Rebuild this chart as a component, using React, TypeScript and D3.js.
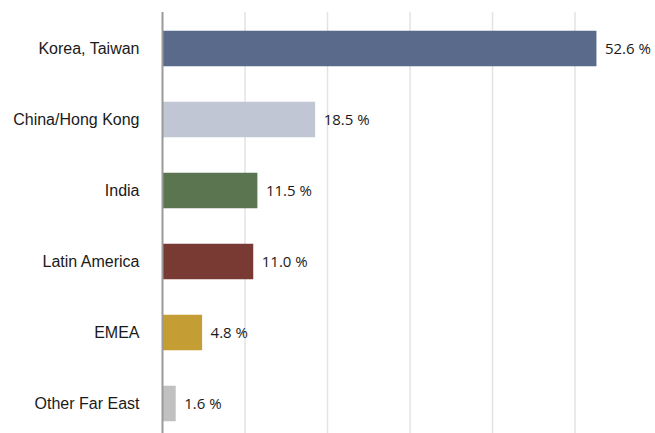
import React from "react";
import * as d3 from "d3";

const categories = ["Korea, Taiwan", "China/Hong Kong", "India", "Latin America", "EMEA", "Other Far East"];
const values = [52.6, 18.5, 11.5, 11.0, 4.8, 1.6];
const colors = ["#5a6a8b", "#c0c6d3", "#5c7551", "#7a3a34", "#c49d34", "#c0c0c0"];
const gridTicks = [10, 20, 30, 40, 50];

export default function App() {
  const W = 655, H = 433;
  const x = d3.scaleLinear().domain([0, 60]).range([162.5, 657.5]);
  const y = d3.scaleBand<string>().domain(categories).range([13, 439]).paddingInner(0.5).paddingOuter(0.25);
  return (
    <svg width={W} height={H} style={{ position: "absolute", left: 0, top: 0, background: "#fff" }}>
      {gridTicks.map((t) => (
        <line key={t} x1={x(t)} x2={x(t)} y1={12} y2={H} stroke="#e3e3e3" strokeWidth={1.5} />
      ))}
      {categories.map((c, i) => (
        <g key={c}>
          <rect x={x(0)} y={y(c)} width={x(values[i]) - x(0)} height={y.bandwidth()} fill={colors[i]} />
          <text x={139.5} y={(y(c) as number) + y.bandwidth() / 2} dy="0.36em" textAnchor="end"
            fontFamily="'Liberation Sans', Arial, sans-serif" fontSize={16} fill="#1a1a1a">{c}</text>
          <text x={x(values[i]) + 8.5} y={(y(c) as number) + y.bandwidth() / 2} dy="0.36em" textAnchor="start"
            fontFamily="'Open Sans', sans-serif" fontSize={15} fill="#1a1a1a">{values[i].toFixed(1) + " %"}</text>
        </g>
      ))}
      <line x1={x(0)} x2={x(0)} y1={12} y2={H} stroke="#9a9a9a" strokeWidth={2} />
    </svg>
  );
}
